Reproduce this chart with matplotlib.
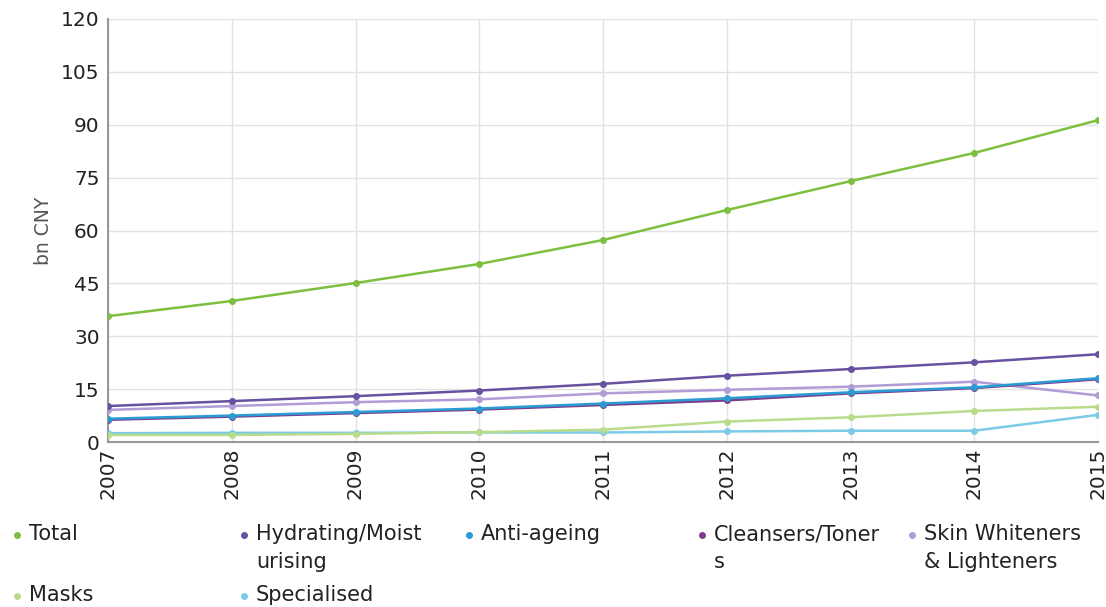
import matplotlib.pyplot as plt
from matplotlib.lines import Line2D

years = [2007, 2008, 2009, 2010, 2011, 2012, 2013, 2014, 2015]
total = [35.7, 40.0, 45.1, 50.5, 57.3, 65.8, 74.0, 82.0, 91.3]
hydrating = [10.2, 11.6, 13.0, 14.6, 16.5, 18.8, 20.7, 22.6, 24.9]
anti_ageing = [6.6, 7.5, 8.5, 9.5, 10.9, 12.4, 14.1, 15.5, 18.1]
cleansers = [6.3, 7.2, 8.2, 9.2, 10.5, 11.8, 13.8, 15.3, 17.8]
whiteners = [9.1, 10.2, 11.3, 12.1, 13.8, 14.8, 15.7, 17.1, 13.2]
masks = [2.0, 2.0, 2.3, 2.8, 3.5, 5.8, 7.0, 8.8, 10.0]
specialised = [2.5, 2.6, 2.6, 2.7, 2.7, 3.0, 3.2, 3.2, 7.7]

names = ['Total', 'Hydrating/Moist\nurising', 'Anti-ageing', 'Cleansers/Toner\ns',
         'Skin Whiteners\n& Lighteners', 'Masks', 'Specialised']
series = [total, hydrating, anti_ageing, cleansers, whiteners, masks, specialised]
colors = ['#7dbf3f', '#6652a0', '#2b9bd3', '#7e3d8c', '#b19cd6', '#b9dc8c', '#7ccbe6']

fig = plt.figure(figsize=(11.06, 6.07), dpi=100)
ax = fig.add_axes([108 / 1106, 1 - 442 / 607, (1098 - 108) / 1106, (442 - 19) / 607])

# draw in reverse so Total sits on top
for vals, c in list(zip(series, colors))[::-1]:
    ax.plot(years, vals, color=c, lw=1.8, marker='o', ms=4, zorder=3)

ax.set_xlim(2007, 2015)
ax.set_ylim(0, 120)
ax.set_yticks(range(0, 121, 15))
ax.set_xticks(years)
ax.set_xticklabels([str(y) for y in years], rotation=90)
ax.tick_params(axis='both', labelsize=14.5, length=0, colors='#222222', pad=6)
ax.tick_params(axis='x', pad=4)
ax.grid(color='#e2e2e2', lw=1)
ax.set_axisbelow(True)
for s in ['top', 'right']:
    ax.spines[s].set_visible(False)
for s in ['left', 'bottom']:
    ax.spines[s].set_color('#999999')
    ax.spines[s].set_linewidth(1.5)
ax.set_ylabel('bn CNY', fontsize=13.5, color='#555555', labelpad=6)

# legend laid out by hand
marker_x = [17, 244, 469, 702, 912, 17, 244]
row_y = [535, 535, 535, 535, 535, 596, 596]
for name, c, mx, my in zip(names, colors, marker_x, row_y):
    fig.add_artist(Line2D([mx / 1106], [1 - my / 607], marker='o', ms=4, color=c,
                          transform=fig.transFigure))
    fig.text((mx + 12) / 1106, 1 - (my - 11) / 607, name, fontsize=15,
             color='#222222', va='top', ha='left', linespacing=1.5)

fig.savefig('out.png', dpi=100)
